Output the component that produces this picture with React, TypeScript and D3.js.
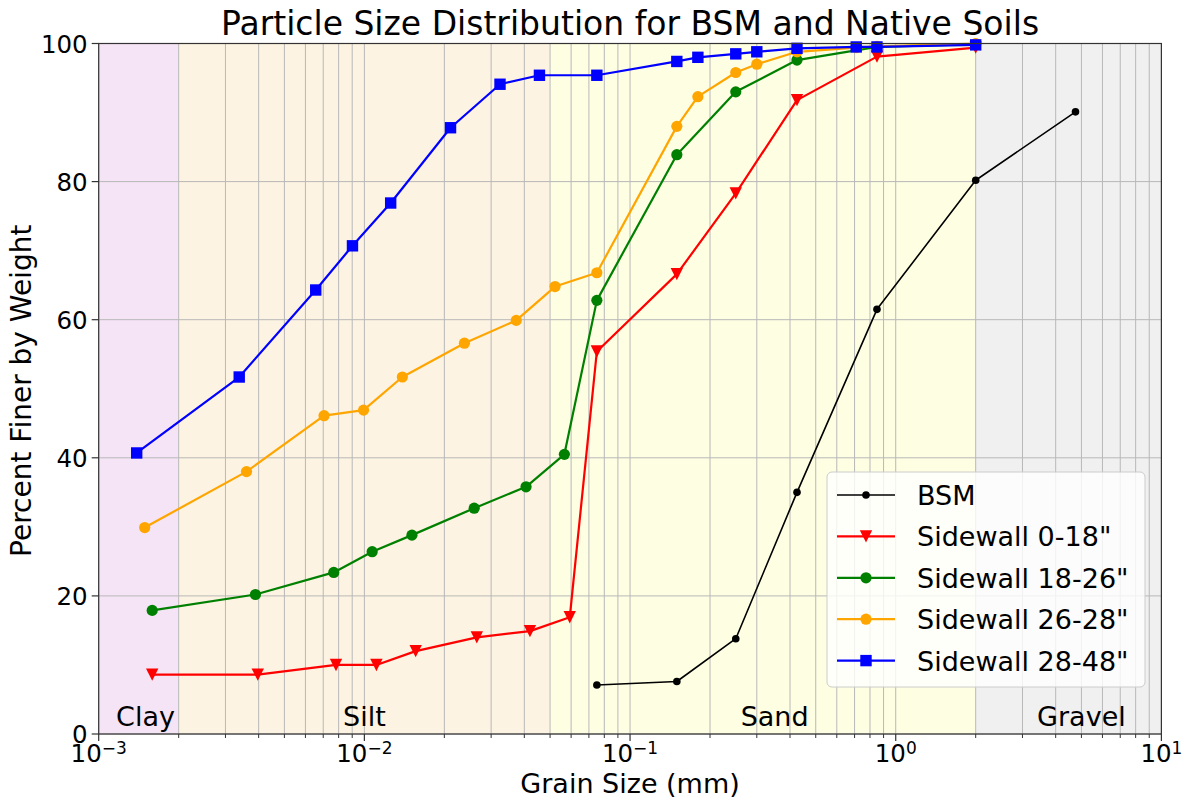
import React from "react";
import * as d3 from "d3";

// Sieve / hydrometer results: grain size (mm) and percent finer by weight
const bsmSize = [0.075, 0.15, 0.25, 0.425, 0.85, 2.0, 4.75];
const bsmPct = [7.1, 7.6, 13.8, 35.0, 61.5, 80.2, 90.1];

const sw0Size = [0.00159, 0.00397, 0.00782, 0.0111, 0.0156, 0.0265, 0.042, 0.0593, 0.075, 0.15, 0.25, 0.425, 0.85, 2.0];
const sw0Pct = [8.6, 8.6, 10.0, 10.0, 12.0, 14.0, 14.9, 16.9, 55.4, 66.6, 78.3, 91.8, 98.1, 99.4];

const sw18Size = [0.00159, 0.00389, 0.00767, 0.0107, 0.0151, 0.0259, 0.0406, 0.0566, 0.075, 0.15, 0.25, 0.425, 0.85, 2.0];
const sw18Pct = [17.9, 20.2, 23.4, 26.4, 28.8, 32.7, 35.8, 40.5, 62.8, 83.9, 93.0, 97.6, 99.5, 99.9];

const sw26Size = [0.00149, 0.0036, 0.00705, 0.00993, 0.0139, 0.0238, 0.0373, 0.0522, 0.075, 0.15, 0.18, 0.25, 0.3, 0.425, 0.71, 0.85, 2.0];
const sw26Pct = [29.9, 38.0, 46.1, 46.9, 51.7, 56.6, 59.9, 64.8, 66.8, 88.0, 92.3, 95.8, 97.0, 98.8, 99.4, 99.6, 100];

const sw28Size = [0.00139, 0.00338, 0.00656, 0.00902, 0.01256, 0.0211, 0.0324, 0.0456, 0.075, 0.15, 0.18, 0.25, 0.3, 0.425, 0.71, 0.85, 2.0];
const sw28Pct = [40.7, 51.7, 64.3, 70.7, 76.9, 87.8, 94.1, 95.4, 95.4, 97.4, 98.0, 98.5, 98.8, 99.3, 99.5, 99.5, 99.8];

const seriesNames = ["BSM", 'Sidewall 0-18"', 'Sidewall 18-26"', 'Sidewall 26-28"', 'Sidewall 28-48"'];

// Soil texture classes (USDA boundaries, mm)
const classNames = ["Clay", "Silt", "Sand", "Gravel"];
const classBounds = [0.001, 0.002, 0.05, 2, 10];
const classLabelAt = [0.0015, 0.01, 0.35, 5];
const classFill = ["#f5e4f5", "#fdf3e2", "#fefee3", "#f0f0f0"];

const yTicks = [0, 20, 40, 60, 80, 100];
const xExponents = [-3, -2, -1, 0, 1];

const W = 1188;
const H = 802;
const left = 98.7;
const right = 1161.4;
const top = 43.5;
const bottom = 734;

const FONT = "DejaVu Sans, Verdana, sans-serif";

type Marker = "circle" | "smallcircle" | "tri" | "square";

function MarkerShape({ kind, cx, cy, color }: { kind: Marker; cx: number; cy: number; color: string }) {
  if (kind === "circle") return <circle cx={cx} cy={cy} r={5.6} fill={color} />;
  if (kind === "smallcircle") return <circle cx={cx} cy={cy} r={3.8} fill={color} />;
  if (kind === "square") return <rect x={cx - 5.7} y={cy - 5.7} width={11.4} height={11.4} fill={color} />;
  const s = 6.2;
  return <path d={`M${cx - s},${cy - s}L${cx + s},${cy - s}L${cx},${cy + s}Z`} fill={color} />;
}

export default function App() {
  const x = d3.scaleLog().domain([1e-3, 1e1]).range([left, right]);
  const y = d3.scaleLinear().domain([0, 100]).range([bottom, top]);

  const series = [
    { name: seriesNames[0], sizes: bsmSize, pct: bsmPct, color: "black", marker: "smallcircle" as Marker, lw: 1.6 },
    { name: seriesNames[1], sizes: sw0Size, pct: sw0Pct, color: "red", marker: "tri" as Marker, lw: 2.2 },
    { name: seriesNames[2], sizes: sw18Size, pct: sw18Pct, color: "green", marker: "circle" as Marker, lw: 2.2 },
    { name: seriesNames[3], sizes: sw26Size, pct: sw26Pct, color: "orange", marker: "circle" as Marker, lw: 2.2 },
    { name: seriesNames[4], sizes: sw28Size, pct: sw28Pct, color: "blue", marker: "square" as Marker, lw: 2.2 },
  ];

  const line = d3
    .line<[number, number]>()
    .x((d) => x(d[0]))
    .y((d) => y(d[1]));

  const majorTicks = xExponents.map((e) => Math.pow(10, e));
  const minorTicks: number[] = [];
  for (let e = -3; e < 1; e++) {
    for (let k = 2; k <= 9; k++) minorTicks.push(k * Math.pow(10, e));
  }

  const legendX = 827;
  const legendY = 472;
  const legendW = 318;
  const legendH = 215;
  const rowGap = 41.4;

  return (
    <svg width={W} height={H} style={{ display: "block", position: "absolute", left: 0, top: 0 }} fontFamily={FONT}>
      <style>{`body{margin:0}`}</style>
      <rect x={0} y={0} width={W} height={H} fill="white" />

      {/* texture class bands */}
      {classNames.map((c, i) => (
        <rect
          key={c}
          x={x(classBounds[i])}
          y={top}
          width={x(classBounds[i + 1]) - x(classBounds[i])}
          height={bottom - top}
          fill={classFill[i]}
        />
      ))}

      {/* grid */}
      {minorTicks.concat(majorTicks).map((t, i) => (
        <line key={"gx" + i} x1={x(t)} x2={x(t)} y1={top} y2={bottom} stroke="#b8b8b8" strokeWidth={1} />
      ))}
      {yTicks.map((t) => (
        <line key={"gy" + t} x1={left} x2={right} y1={y(t)} y2={y(t)} stroke="#b8b8b8" strokeWidth={1} />
      ))}

      {/* class labels */}
      {classNames.map((c, i) => (
        <text key={"cl" + c} x={x(classLabelAt[i])} y={y(1.1)} fontSize={27} textAnchor="middle" fill="black">
          {c}
        </text>
      ))}

      {/* data */}
      {series.map((s) => {
        const pts = s.sizes.map((v, i) => [v, s.pct[i]] as [number, number]);
        return (
          <g key={s.name}>
            <path d={line(pts) || ""} fill="none" stroke={s.color} strokeWidth={s.lw} strokeLinejoin="round" />
            {pts.map((p, i) => (
              <MarkerShape key={i} kind={s.marker} cx={x(p[0])} cy={y(p[1])} color={s.color} />
            ))}
          </g>
        );
      })}

      {/* frame */}
      <rect x={left} y={top} width={right - left} height={bottom - top} fill="none" stroke="#333" strokeWidth={1.2} />

      {/* y axis */}
      {yTicks.map((t) => (
        <g key={"yt" + t}>
          <line x1={left - 7} x2={left} y1={y(t)} y2={y(t)} stroke="#333" strokeWidth={1.2} />
          <text x={left - 11} y={y(t) + 9} fontSize={24.5} textAnchor="end" fill="black">
            {t}
          </text>
        </g>
      ))}

      {/* x axis */}
      {minorTicks.map((t, i) => (
        <line key={"xm" + i} x1={x(t)} x2={x(t)} y1={bottom} y2={bottom + 4} stroke="#333" strokeWidth={1} />
      ))}
      {xExponents.map((e) => {
        const t = Math.pow(10, e);
        return (
          <g key={"xt" + e}>
            <line x1={x(t)} x2={x(t)} y1={bottom} y2={bottom + 7} stroke="#333" strokeWidth={1.2} />
            <text x={x(t)} y={762} fontSize={24.5} textAnchor="middle" fill="black">
              10
              <tspan fontSize={17} dy={-8}>
                {e < 0 ? "\u2212" + Math.abs(e) : String(e)}
              </tspan>
            </text>
          </g>
        );
      })}

      {/* axis titles */}
      <text x={(left + right) / 2} y={793} fontSize={27} textAnchor="middle" fill="black">
        Grain Size (mm)
      </text>
      <text
        transform={`translate(31,${(top + bottom) / 2 + 2}) rotate(-90)`}
        fontSize={28}
        textAnchor="middle"
        fill="black"
      >
        Percent Finer by Weight
      </text>
      <text x={(left + right) / 2} y={35} fontSize={33} textAnchor="middle" fill="black">
        Particle Size Distribution for BSM and Native Soils
      </text>

      {/* legend */}
      <g>
        <rect
          x={legendX}
          y={legendY}
          width={legendW}
          height={legendH}
          rx={5}
          fill="white"
          fillOpacity={0.8}
          stroke="#cccccc"
          strokeWidth={1}
        />
        {series.map((s, i) => {
          const cy = legendY + 23 + i * rowGap;
          return (
            <g key={"lg" + i}>
              <line x1={legendX + 10} x2={legendX + 68} y1={cy} y2={cy} stroke={s.color} strokeWidth={s.lw} />
              <MarkerShape kind={s.marker} cx={legendX + 39} cy={cy} color={s.color} />
              <text x={legendX + 90} y={cy + 10} fontSize={27} fill="black">
                {s.name}
              </text>
            </g>
          );
        })}
      </g>
    </svg>
  );
}
